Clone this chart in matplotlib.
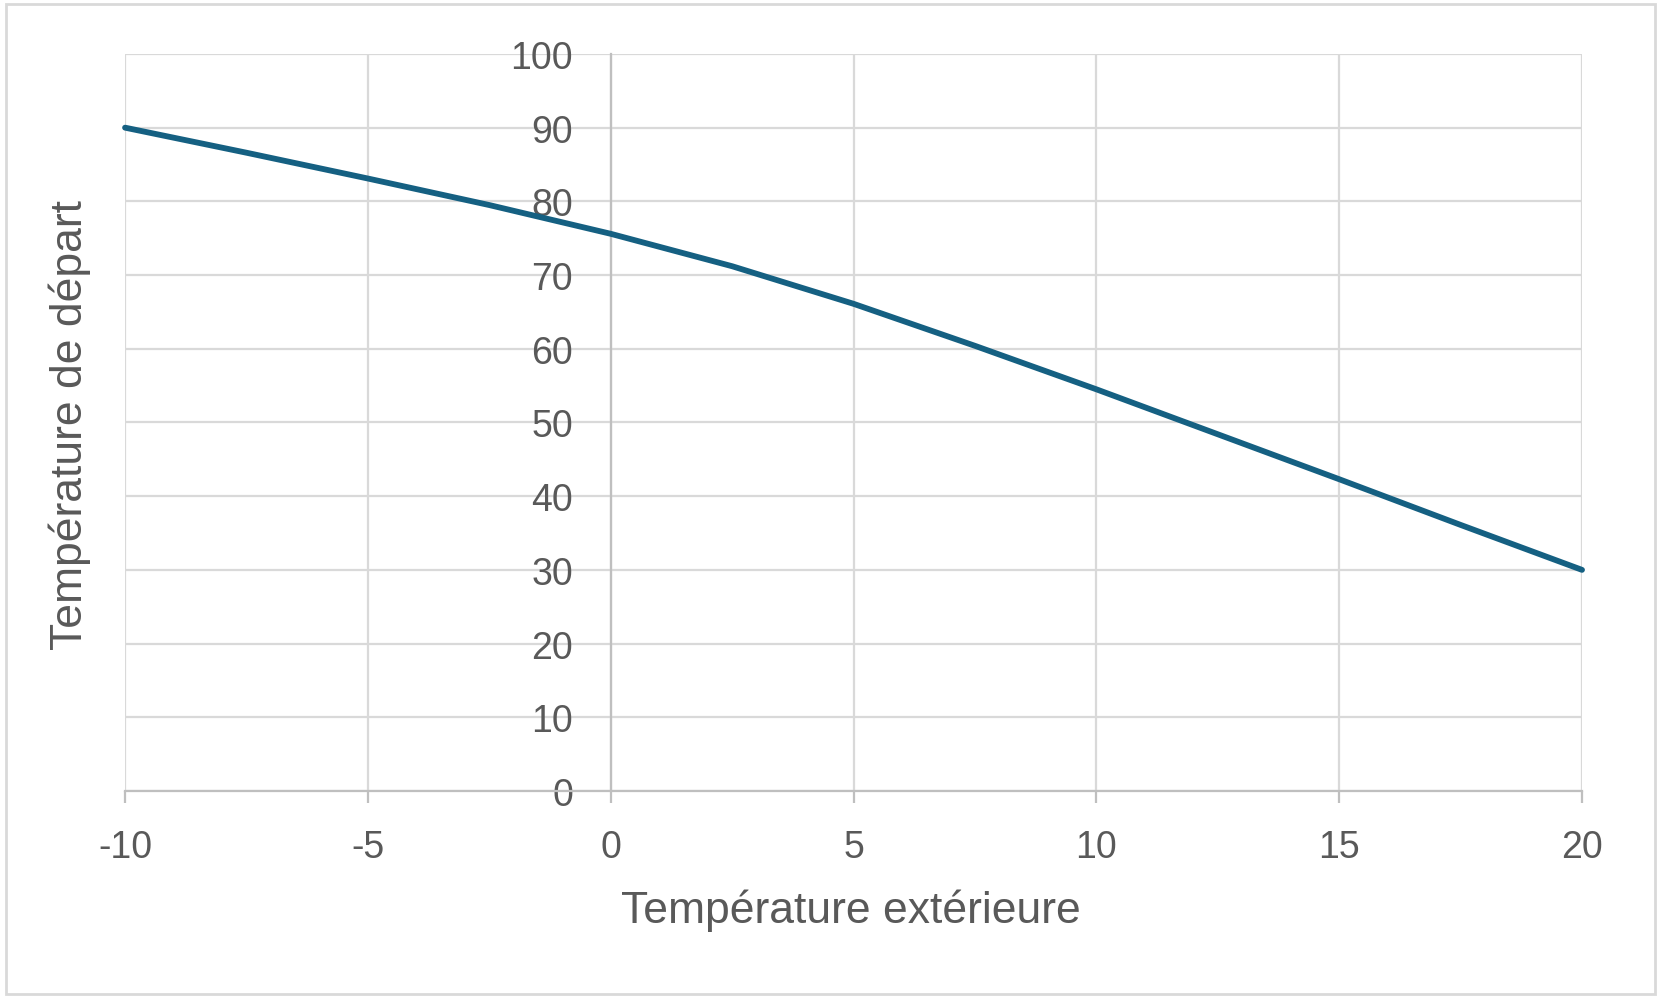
import matplotlib
matplotlib.use("Agg")
import matplotlib.pyplot as plt
from matplotlib.patches import Rectangle

# outdoor temperature vs supply temperature (heating curve)
temp_ext = [-10, -7.5, -5, -2.5, 0, 2.5, 5, 7.5, 10, 12.5, 15, 17.5, 20]
temp_depart = [90, 86.6, 83.1, 79.5, 75.6, 71.2, 66.1, 60.4, 54.5, 48.4, 42.3, 36.1, 30]

x_ticks = [-10, -5, 0, 5, 10, 15, 20]
y_ticks = [0, 10, 20, 30, 40, 50, 60, 70, 80, 90, 100]

plt.rcParams["font.family"] = ["Liberation Sans", "DejaVu Sans"]
plt.rcParams["axes.unicode_minus"] = False
text_color = "#595959"
grid_color = "#d9d9d9"
axis_color = "#bfbfbf"

fig = plt.figure(figsize=(16.63, 10.03), dpi=100)
ax = fig.add_axes([0.0752, 0.2104, 0.8761, 0.7348])

# outer chart border
fig.patches.append(Rectangle((0.0035, 0.008), 0.9915, 0.987, transform=fig.transFigure,
                             fill=False, edgecolor="#d9d9d9", linewidth=2))

ax.plot(temp_ext, temp_depart, color="#156082", linewidth=4.2, solid_capstyle="round",
        solid_joinstyle="round", zorder=3, clip_on=False)

ax.set_xlim(-10, 20)
ax.set_ylim(0, 100)
ax.set_xticks(x_ticks)
ax.set_yticks(y_ticks)
ax.grid(True, color=grid_color, linewidth=1.6)
ax.set_axisbelow(True)

for side in ["top", "right"]:
    ax.spines[side].set_visible(False)
ax.spines["left"].set_position(("data", 0))
ax.spines["left"].set_color(axis_color)
ax.spines["left"].set_linewidth(1.6)
ax.spines["bottom"].set_color(axis_color)
ax.spines["bottom"].set_linewidth(1.6)

ax.tick_params(axis="x", colors=text_color, labelsize=27, length=8.6, width=1.6,
               color=axis_color, pad=19, direction="out")
ax.tick_params(axis="y", colors=text_color, labelsize=27, length=0, pad=27)

fig.text(0.5117, 0.080, "Température extérieure", fontsize=32, color=text_color,
         ha="center", va="baseline")
fig.text(0.0493, 0.576, "Température de départ", rotation=90, rotation_mode="anchor",
         fontsize=32, color=text_color, ha="center", va="baseline")

fig.savefig("out.png", dpi=100)
